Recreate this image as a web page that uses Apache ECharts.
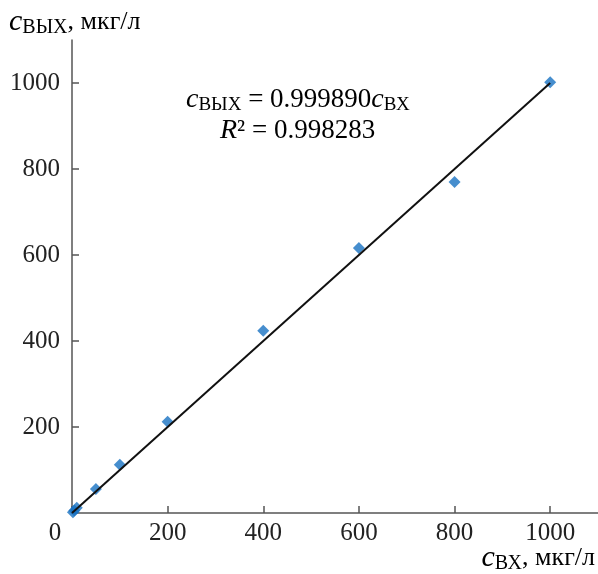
<!DOCTYPE html>
<html>
<head>
<meta charset="utf-8">
<script src="https://cdn.jsdelivr.net/npm/echarts@6/dist/echarts.min.js"></script>
<style>
  html, body { margin: 0; padding: 0; background: #fff; }
  #chart { width: 598px; height: 574px; }
</style>
</head>
<body>
<div id="chart"></div>
<script>
// measured points: c_вх vs c_вых, мкг/л
var cIn = [2, 5, 10, 50, 100, 200, 400, 600, 800, 1000]
var cOut = [2, 6, 12, 56, 112, 212, 424, 616, 770, 1002]
var slope = 0.999890
var xTicks = [0, 200, 400, 600, 800, 1000]
var yTicks = [200, 400, 600, 800, 1000]

var serif = "'Liberation Serif', 'Times New Roman', serif"
var textColor = '#222'
var axisColor = '#555'

// rich styles for italic c with small-caps subscript
function richSet(big, sub, rest, shift) {
  return {
    i: { fontFamily: serif, fontStyle: 'italic', fontSize: big, color: textColor },
    s: { fontFamily: serif, fontSize: sub, color: textColor, padding: [shift, 0, 0, 0] },
    n: { fontFamily: serif, fontSize: rest, color: textColor }
  }
}

var chart = echarts.init(document.getElementById('chart'))

chart.setOption({
  animation: false,
  backgroundColor: '#fff',
  grid: { left: 72, right: 0, top: 40, bottom: 61 },
  xAxis: {
    type: 'value',
    min: 0,
    max: 1100,
    splitLine: { show: false },
    axisLine: { lineStyle: { color: axisColor, width: 1.5 } },
    axisTick: { inside: true, length: 7, customValues: xTicks, lineStyle: { color: axisColor, width: 1.5 } },
    axisLabel: {
      customValues: xTicks,
      margin: 8,
      fontFamily: serif,
      fontSize: 25,
      color: textColor,
      formatter: function (v) { return v === 0 ? '{z|0}' : String(v) },
      rich: { z: { fontFamily: serif, fontSize: 25, color: textColor, padding: [0, 34, 0, 0] } }
    }
  },
  yAxis: {
    type: 'value',
    min: 0,
    max: 1100,
    splitLine: { show: false },
    axisLine: { lineStyle: { color: axisColor, width: 1.5 } },
    axisTick: { inside: true, length: 7, customValues: yTicks, lineStyle: { color: axisColor, width: 1.5 } },
    axisLabel: {
      customValues: yTicks,
      margin: 12,
      fontFamily: serif,
      fontSize: 25,
      color: textColor,
      formatter: function (v) { return String(v) }
    }
  },
  graphic: [
    {
      type: 'text', left: 9, top: 7,
      style: { text: '{i|c}{s|ВЫХ}{n|, мкг/л}', rich: richSet(30, 20, 26, 12) }
    },
    {
      type: 'text', right: 3, bottom: 0,
      style: { text: '{i|c}{s|ВХ}{n|, мкг/л}', rich: richSet(30, 20, 26, 12) }
    },
    {
      type: 'text', left: 186, top: 86,
      style: { text: '{i|c}{s|ВЫХ}{n| = 0.999890}{i|c}{s|ВХ}', rich: richSet(28, 19, 27, 11) }
    },
    {
      type: 'text', left: 220, top: 117,
      style: { text: '{i|R}{n|² = 0.998283}', rich: richSet(28, 19, 27, 11) }
    }
  ],
  series: [
    {
      type: 'scatter',
      symbol: 'diamond',
      symbolSize: 12,
      itemStyle: { color: '#1872c2' },
      data: cIn.map(function (x, i) { return [x, cOut[i]] }),
      z: 2
    },
    {
      type: 'line',
      showSymbol: false,
      symbol: 'none',
      lineStyle: { color: '#111', width: 2 },
      data: [[0, 0], [1000, 1000 * slope]],
      z: 3
    }
  ]
})
</script>
</body>
</html>
